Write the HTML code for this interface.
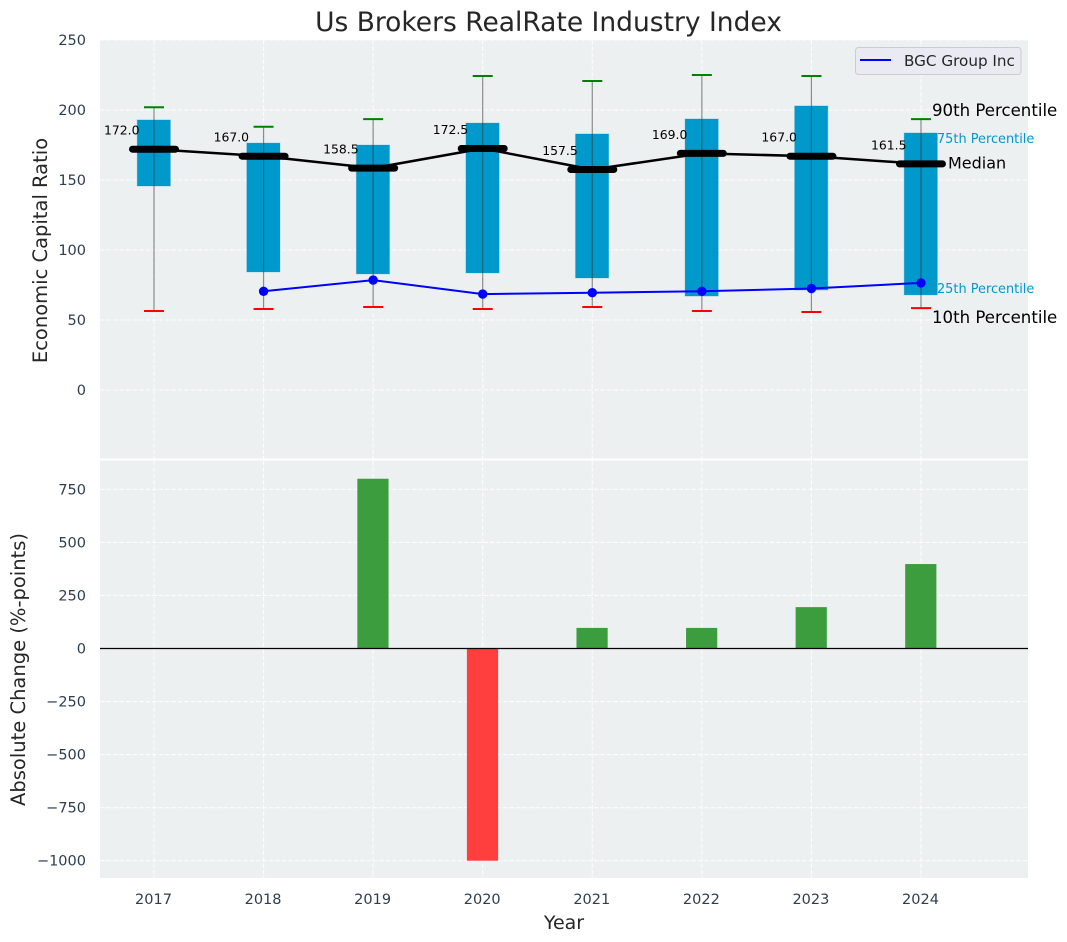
<!DOCTYPE html>
<html>
<head>
<meta charset="utf-8">
<title>Us Brokers RealRate Industry Index</title>
<style>
html,body{margin:0;padding:0;background:#fff;}
svg{display:block;font-family:"DejaVu Sans","Liberation Sans",sans-serif;}
</style>
</head>
<body>
<svg id="chart" xmlns="http://www.w3.org/2000/svg" width="1067" height="942" viewBox="0 0 1067 942">
<rect x="100" y="40" width="928" height="418.5" fill="#ecf0f1"/>
<rect x="100" y="460.5" width="928" height="417.5" fill="#ecf0f1"/>
<g id="top-grid"></g>
<g id="bottom-grid"></g>
<g id="top-marks"></g>
<g id="bottom-marks"></g>
<g id="ticks"></g>
<text x="548.5" y="31" font-size="26.5px" fill="#262626" text-anchor="middle">Us Brokers RealRate Industry Index</text>
<text transform="translate(47,250.5) rotate(-90)" font-size="19.5px" fill="#262626" text-anchor="middle">Economic Capital Ratio</text>
<text transform="translate(25,669.5) rotate(-90)" font-size="19.5px" fill="#262626" text-anchor="middle">Absolute Change (%-points)</text>
<text x="564" y="929" font-size="19px" fill="#262626" text-anchor="middle">Year</text>
<g>
<rect x="855.5" y="47.5" width="165.5" height="27" rx="3" fill="#eaeaf2" stroke="#cccccc" stroke-width="1"/>
<line x1="860" y1="60" x2="891" y2="60" stroke="#0000ff" stroke-width="2"/>
<text x="904" y="66" font-size="15.2px" fill="#262626">BGC Group Inc</text>
</g>
<g id="annotations"></g>
</svg>
<script>
var years = [2017, 2018, 2019, 2020, 2021, 2022, 2023, 2024];
var p90 = [202, 188, 193.5, 224.3, 220.7, 225, 224.3, 193.5];
var p75 = [192.9, 176.4, 175, 190.7, 182.9, 193.6, 202.9, 183.6];
var medians = [172, 167, 158.5, 172.5, 157.5, 169, 167, 161.5];
var p25 = [145.7, 84.3, 82.9, 83.6, 80, 67.1, 71.4, 67.9];
var p10 = [56.4, 57.9, 59.3, 57.9, 59.3, 56.4, 55.7, 58.5];
var bgcValues = [null, 70.5, 78.5, 68.5, 69.5, 70.5, 72.5, 76.5];
var changeValues = [0, 0, 800, -1000, 97, 97, 195, 398];
var topTicks = [0, 50, 100, 150, 200, 250];
var bottomTicks = [-1000, -750, -500, -250, 0, 250, 500, 750];

var NS = 'http://www.w3.org/2000/svg';
function x(v) { return 154 + (v - 2017) * 109.57; }
function yTop(v) { return 390 - v * 1.4; }
function yBottom(v) { return 648.5 - v * 0.2122; }
function make(tag, attrs, parent, content) {
  var e = document.createElementNS(NS, tag);
  for (var k in attrs) { e.setAttribute(k, attrs[k]); }
  if (content !== undefined) { e.textContent = content; }
  parent.appendChild(e);
  return e;
}
var topGrid = document.getElementById('top-grid');
var bottomGrid = document.getElementById('bottom-grid');
var topMarks = document.getElementById('top-marks');
var bottomMarks = document.getElementById('bottom-marks');
var ticks = document.getElementById('ticks');
var notes = document.getElementById('annotations');
var gridStyle = {stroke: '#ffffff', 'stroke-width': 1.1, 'stroke-dasharray': '4.5 2', 'stroke-opacity': 0.85};
function grid(a, b, c, d, parent) {
  var attrs = {x1: a, y1: b, x2: c, y2: d};
  for (var k in gridStyle) { attrs[k] = gridStyle[k]; }
  return make('line', attrs, parent);
}

topTicks.forEach(function (t) {
  var g = grid(100, yTop(t), 1028, yTop(t), topGrid);
  
  
  var l = make('text', {x: 86, y: yTop(t) + 5, 'font-size': '14.5px', fill: '#2c3e50', 'text-anchor': 'end'}, ticks, String(t));
  
  
});
bottomTicks.forEach(function (t) {
  var g = grid(100, yBottom(t), 1028, yBottom(t), bottomGrid);
  
  
  var l = make('text', {x: 86, y: yBottom(t) + 5, 'font-size': '14.5px', fill: '#2c3e50', 'text-anchor': 'end'}, ticks, String(t).replace('-', '\u2212'));
  
  
});
years.forEach(function (yr) {
  var g1 = grid(x(yr), 40, x(yr), 458.5, topGrid);
  
  
  var g2 = grid(x(yr), 460.5, x(yr), 878, bottomGrid);
  
  
  var l = make('text', {x: x(yr) - 0.5, y: 904, 'font-size': '14.5px', fill: '#2c3e50', 'text-anchor': 'middle'}, ticks, String(yr));
  
  
});

years.forEach(function (yr, i) {
  var cx = x(yr);
  var box = make('rect', {x: cx - 16.8, y: yTop(p75[i]), width: 33.2, height: yTop(p25[i]) - yTop(p75[i]), fill: '#0099cc', stroke: '#0099cc', 'stroke-opacity': 0.25, 'stroke-width': 1}, topMarks);
  
  
  var whisk = make('line', {x1: cx, y1: yTop(p90[i]), x2: cx, y2: yTop(p10[i]), stroke: '#333333', 'stroke-opacity': 0.55, 'stroke-width': 1.2}, topMarks);
  
  
  var capHi = make('line', {x1: cx - 10, y1: yTop(p90[i]), x2: cx + 10, y2: yTop(p90[i]), stroke: '#008000', 'stroke-width': 2}, topMarks);
  
  
  var capLo = make('line', {x1: cx - 10, y1: yTop(p10[i]), x2: cx + 10, y2: yTop(p10[i]), stroke: '#ff0000', 'stroke-width': 2}, topMarks);
  
  
});

var medianPoints = years.map(function (yr, i) { return x(yr) + ',' + yTop(medians[i]); }).join(' ');
var medianLine = make('polyline', {points: medianPoints, fill: 'none', stroke: '#000000', 'stroke-width': 2.5, 'stroke-linejoin': 'round'}, topMarks);



years.forEach(function (yr, i) {
  var cx = x(yr);
  var bar = make('line', {x1: cx - 21.5, y1: yTop(medians[i]), x2: cx + 21.5, y2: yTop(medians[i]), stroke: '#000000', 'stroke-width': 7, 'stroke-linecap': 'round'}, topMarks);
  
  
  var label = make('text', {x: cx - 14.5, y: yTop(medians[i]) - 14.5, 'font-size': '12.4px', fill: '#000000', 'text-anchor': 'end'}, topMarks, medians[i].toFixed(1));
  
  
});

var bgcPoints = [];
years.forEach(function (yr, i) {
  if (bgcValues[i] !== null) { bgcPoints.push(x(yr) + ',' + yTop(bgcValues[i])); }
});
var bgcLine = make('polyline', {points: bgcPoints.join(' '), fill: 'none', stroke: '#0000ff', 'stroke-width': 2}, topMarks);


years.forEach(function (yr, i) {
  if (bgcValues[i] === null) { return; }
  var dot = make('circle', {cx: x(yr), cy: yTop(bgcValues[i]), r: 4.7, fill: '#0000ff'}, topMarks);
  
  
});

years.forEach(function (yr, i) {
  var v = changeValues[i];
  if (v === 0) { return; }
  var top = v > 0 ? yBottom(v) : yBottom(0);
  var h = Math.abs(yBottom(v) - yBottom(0));
  var bar = make('rect', {x: x(yr) - 15.8, y: top, width: 31.2, height: h, fill: v > 0 ? '#3c9d3f' : '#ff3e3e'}, bottomMarks);
  
  
});
var zero = make('line', {x1: 100, y1: yBottom(0), x2: 1028, y2: yBottom(0), stroke: '#000000', 'stroke-width': 1.2}, bottomMarks);



var last = years.length - 1;
var lx = x(years[last]);
var n90 = make('text', {x: lx + 11, y: yTop(p90[last]) - 3, 'font-size': '16.6px', fill: '#000000'}, notes, '90th Percentile');


var n75 = make('text', {x: lx + 16, y: yTop(p75[last]) + 10, 'font-size': '12.9px', fill: '#0099cc'}, notes, '75th Percentile');


var nMed = make('text', {x: lx + 27, y: yTop(medians[last]) + 4.5, 'font-size': '16px', fill: '#000000'}, notes, 'Median');


var n25 = make('text', {x: lx + 16, y: yTop(p25[last]) - 2, 'font-size': '12.9px', fill: '#0099cc'}, notes, '25th Percentile');


var n10 = make('text', {x: lx + 11, y: yTop(p10[last]) + 15, 'font-size': '16.6px', fill: '#000000'}, notes, '10th Percentile');


</script>
</body>
</html>
